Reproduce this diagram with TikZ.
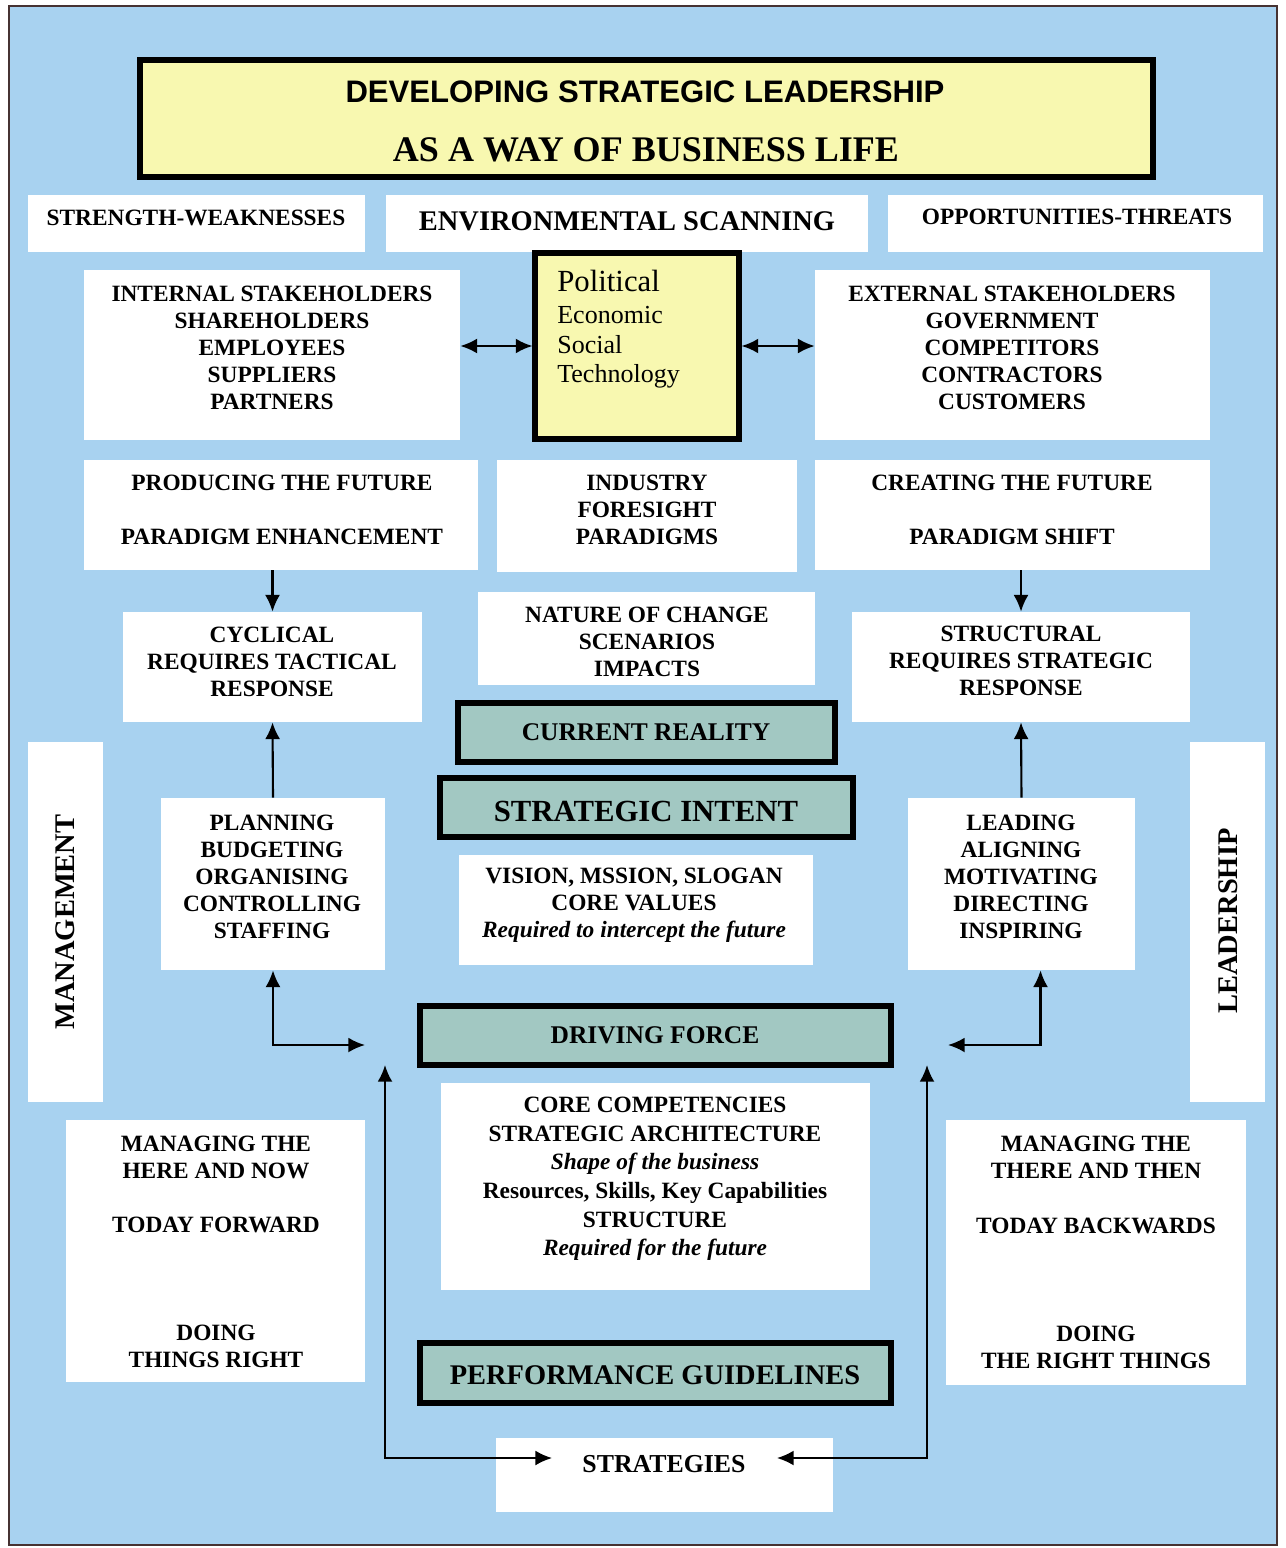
\documentclass[tikz,border=0pt]{standalone}
\usepackage{fontspec}
\setmainfont{Liberation Serif}
\newfontfamily\headsans{Liberation Sans}
\usetikzlibrary{arrows.meta,fit}

\definecolor{skyblue}{RGB}{168,210,240}
\definecolor{paleyellow}{RGB}{248,248,176}
\definecolor{sagefill}{RGB}{162,200,194}
\definecolor{rimline}{RGB}{70,50,50}

\tikzset{
  wbox/.style={fill=white, draw=none, inner sep=0pt},
  tealframe/.style={fill=sagefill, draw=black, line width=3pt, inner sep=0pt},
  yelframe/.style={fill=paleyellow, draw=black, line width=3.2pt, inner sep=0pt},
  body/.style={font=\bfseries\fontsize{13.3}{15.4}\selectfont, align=center, inner sep=0pt},
  pestline/.style={font=\fontsize{14.8}{17}\selectfont, anchor=base west, inner sep=0pt},
  arr/.style={-{Latex[length=9.5pt,width=8.5pt]}, line width=1.2pt},
  darr/.style={{Latex[length=9.5pt,width=8.5pt]}-{Latex[length=9.5pt,width=8.5pt]}, line width=1.2pt},
}

\begin{document}
\begin{tikzpicture}[x=0.02cm, y=-0.02cm]
  \useasboundingbox (0,0) rectangle (1285,1548);
  \fill[white] (0,0) rectangle (1285,1548);
  \draw[fill=skyblue, draw=rimline, line width=1pt] (9,6) rectangle (1277,1545);

  % title
  \node[yelframe, fit={(140,60)(1153,177)}] (title) {};
  \node[inner sep=0pt, font=\headsans\bfseries\fontsize{17.7}{20}\selectfont] (title-a) at (645,92) {DEVELOPING STRATEGIC LEADERSHIP};
  \node[inner sep=0pt, font=\bfseries\fontsize{20.5}{24}\selectfont] (title-b) at (646,150) {AS A WAY OF BUSINESS LIFE};

  % scanning row
  \node[wbox, fit={(28,195)(365,252)}] (sw) {};
  \node[body] (sw-t) at (196,218) {STRENGTH-WEAKNESSES};
  \node[wbox, fit={(386,195)(868,252)}] (env) {};
  \node[body, font=\bfseries\fontsize{16.2}{19}\selectfont] (env-t) at (627,221) {ENVIRONMENTAL SCANNING};
  \node[wbox, fit={(888,195)(1263,252)}] (ot) {};
  \node[body] (ot-t) at (1077,217) {OPPORTUNITIES-THREATS};

  % stakeholders and PEST
  \node[wbox, fit={(84,270)(460,440)}] (internal) {};
  \node[body] (internal-t) at (272,348) {INTERNAL STAKEHOLDERS\\SHAREHOLDERS\\EMPLOYEES\\SUPPLIERS\\PARTNERS};
  \node[wbox, fit={(815,270)(1210,440)}] (external) {};
  \node[body] (external-t) at (1012,347.5) {EXTERNAL STAKEHOLDERS\\GOVERNMENT\\COMPETITORS\\CONTRACTORS\\CUSTOMERS};
  \node[yelframe, line width=2.9pt, fit={(535,253)(739,439)}] (pest) {};
  \node[pestline, font=\fontsize{17.5}{20}\selectfont] (pest-p) at (557,291) {Political};
  \node[pestline] (pest-e) at (557,323) {Economic};
  \node[pestline] (pest-s) at (557,353) {Social};
  \node[pestline] (pest-t) at (557,382) {Technology};
  \draw[darr] (pest.west -| internal.east) -- (pest.west);
  \draw[darr] (pest.east) -- (pest.east -| external.west);

  % future row
  \node[wbox, fit={(84,460)(478,570)}] (producing) {};
  \node[body] (producing-t) at (282,510) {PRODUCING THE FUTURE\\[15.4pt]PARADIGM ENHANCEMENT};
  \node[wbox, fit={(497,460)(797,572)}] (industry) {};
  \node[body] (industry-t) at (647,510) {INDUSTRY\\FORESIGHT\\PARADIGMS};
  \node[wbox, fit={(815,460)(1210,570)}] (creating) {};
  \node[body] (creating-t) at (1012,510) {CREATING THE FUTURE\\[15.4pt]PARADIGM SHIFT};

  % change row
  \node[wbox, fit={(123,612)(422,722)}] (cyclical) {};
  \node[body] (cyclical-t) at (272,661.5) {CYCLICAL\\REQUIRES TACTICAL\\RESPONSE};
  \node[wbox, fit={(478,592)(815,685)}] (nature) {};
  \node[body] (nature-t) at (647,641.5) {NATURE OF CHANGE\\SCENARIOS\\IMPACTS};
  \node[wbox, fit={(852,612)(1190,722)}] (structural) {};
  \node[body] (structural-t) at (1021,661) {STRUCTURAL\\REQUIRES STRATEGIC\\RESPONSE};
  \draw[arr] (cyclical.north |- producing.south) -- (cyclical.north);
  \draw[arr] (structural.north |- creating.south) -- (structural.north);

  % reality and intent
  \node[tealframe, fit={(458,703)(835,762)}] (reality) {};
  \node[body, font=\bfseries\fontsize{14.5}{17}\selectfont] (reality-t) at (646,732) {CURRENT REALITY};
  \node[tealframe, fit={(440,778)(853,837)}] (intent) {};
  \node[body, font=\bfseries\fontsize{17.5}{20}\selectfont] (intent-t) at (646,811) {STRATEGIC INTENT};

  % side banners
  \node[wbox, fit={(28,742)(103,1102)}] (mgmt) {};
  \node[body, font=\bfseries\fontsize{16.2}{19}\selectfont, rotate=90] (mgmt-t) at (65,922) {MANAGEMENT};
  \node[wbox, fit={(1190,742)(1265,1102)}] (lead) {};
  \node[body, font=\bfseries\fontsize{16.2}{19}\selectfont, rotate=90] (lead-t) at (1228,921) {LEADERSHIP};

  % functions
  \node[wbox, fit={(161,798)(385,970)}] (planning) {};
  \node[body] (planning-t) at (272,876.5) {PLANNING\\BUDGETING\\ORGANISING\\CONTROLLING\\STAFFING};
  \node[wbox, fit={(459,855)(813,965)}] (vision) {};
  \node[body] (vision-t) at (634,905) {VISION, MSSION, SLOGAN\\CORE VALUES\\\textit{Required to intercept the future}};
  \node[wbox, fit={(908,798)(1135,970)}] (leading) {};
  \node[body] (leading-t) at (1021,876.5) {LEADING\\ALIGNING\\MOTIVATING\\DIRECTING\\INSPIRING};
  \draw[arr] (planning.north) -- (cyclical.south);
  \draw[arr] (leading.north) -- (structural.south);

  % driving force
  \node[tealframe, fit={(420,1006)(891,1065)}] (driving) {};
  \node[body, font=\bfseries\fontsize{14.5}{17}\selectfont] (driving-t) at (655,1035) {DRIVING FORCE};
  \coordinate (mgmt-end) at (365,1045);
  \coordinate (lead-end) at (948,1045);
  \draw[darr] (planning.south) |- (mgmt-end);
  \draw[darr] ([xshift=0.38cm]leading.south) |- (lead-end);

  % competencies and time horizons
  \node[wbox, fit={(441,1083)(870,1290)}] (core) {};
  \node[body, font=\bfseries\fontsize{13.3}{16.3}\selectfont] (core-t) at (655,1179) {CORE COMPETENCIES\\STRATEGIC ARCHITECTURE\\\textit{Shape of the business}\\Resources, Skills, Key Capabilities\\STRUCTURE\\\textit{Required for the future}};
  \node[wbox, fit={(66,1120)(365,1382)}] (herenow) {};
  \node[body] (herenow-t) at (216,1252) {MANAGING THE\\HERE AND NOW\\[15.4pt]TODAY FORWARD\\[46.2pt]DOING\\THINGS RIGHT};
  \node[wbox, fit={(946,1120)(1246,1385)}] (therethen) {};
  \node[body] (therethen-t) at (1096,1252.5) {MANAGING THE\\THERE AND THEN\\[15.4pt]TODAY BACKWARDS\\[46.2pt]DOING\\THE RIGHT THINGS};

  % guidelines and strategies
  \node[tealframe, fit={(420,1343)(891,1403)}] (perf) {};
  \node[body, font=\bfseries\fontsize{16.2}{19}\selectfont] (perf-t) at (655,1375) {PERFORMANCE GUIDELINES};
  \node[wbox, fit={(496,1438)(833,1512)}] (strat) {};
  \node[body, font=\bfseries\fontsize{14.7}{17}\selectfont] (strat-t) at (664,1464) {STRATEGIES};
  \coordinate (loop-l) at (385,1065);
  \coordinate (loop-r) at (927,1065);
  \draw[darr] (loop-l) |- ([shift={(-0.6cm,0.12cm)}]strat-t.west);
  \draw[darr] (loop-r) |- ([shift={(0.62cm,0.12cm)}]strat-t.east);
\end{tikzpicture}
\end{document}
